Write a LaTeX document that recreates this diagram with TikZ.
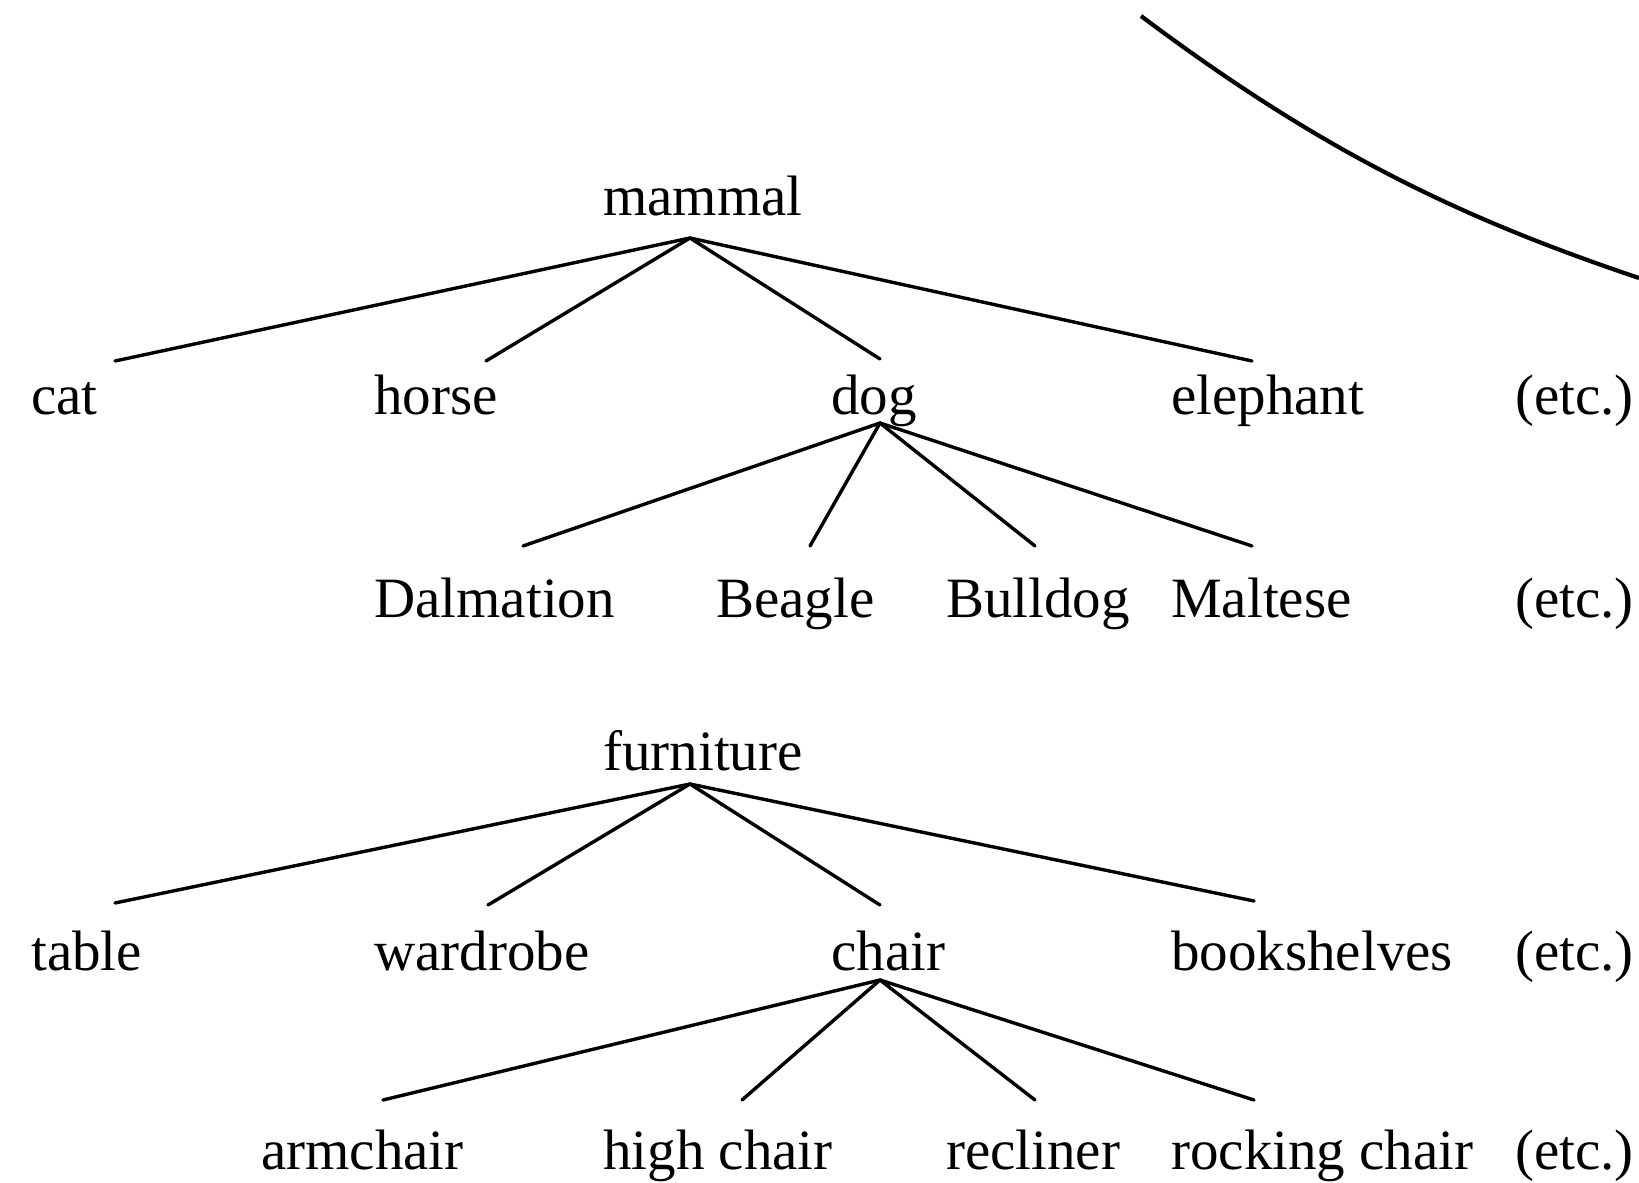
\documentclass[tikz,border=0pt]{standalone}
\usepackage{fontspec}
\setmainfont{Liberation Serif}
\usetikzlibrary{positioning}
\tikzset{
  word/.style={anchor=base west,inner sep=0pt,font=\fontsize{57}{68}\selectfont},
  branch/.style={line width=3.4pt,line cap=round}
}
\begin{document}
\begin{tikzpicture}[x=1pt,y=-1pt]
  \useasboundingbox (0,0) rectangle (1639,1183);
  \draw[line width=4.2pt] (1141,16) .. controls (1321,151) and (1459,217.5) .. (1639,278);
  % mammal tree
  \node[word] (mammal) at (603,215) {mammal};
  \node[word] (cat) at (31,414) {cat};
  \node[word] (horse) at (374,414) {horse};
  \node[word] (dog) at (831,414) {dog};
  \node[word] (elephant) at (1171,414) {elephant};
  \node[word] (etcA) at (1515,414) {(etc.)};
  \node[word] (dalmation) at (374,617) {Dalmation};
  \node[word] (beagle) at (716,617) {Beagle};
  \node[word] (bulldog) at (946,617) {Bulldog};
  \node[word] (maltese) at (1171,617) {Maltese};
  \node[word] (etcB) at (1515,617) {(etc.)};
  % furniture tree
  \node[word] (furniture) at (603,770) {furniture};
  \node[word] (table) at (31,970) {table};
  \node[word] (wardrobe) at (374,970) {wardrobe};
  \node[word] (chair) at (831,970) {chair};
  \node[word] (bookshelves) at (1171,970) {bookshelves};
  \node[word] (etcC) at (1515,970) {(etc.)};
  \node[word] (armchair) at (261,1169) {armchair};
  \node[word] (highchair) at (603,1169) {high chair};
  \node[word] (recliner) at (946,1169) {recliner};
  \node[word] (rocking) at (1171,1169) {rocking chair};
  \node[word] (etcD) at (1515,1169) {(etc.)};
  % branch ends
  \coordinate (mammal-dn) at (690,238);
  \coordinate (dog-dn) at (880,423);
  \coordinate (furniture-dn) at (690,784);
  \coordinate (chair-dn) at (880,980);
  \coordinate (cat-up) at (115,361);
  \coordinate (horse-up) at (486,361);
  \coordinate (dog-up) at (880,359);
  \coordinate (elephant-up) at (1252,361);
  \coordinate (dalmation-up) at (523,546);
  \coordinate (beagle-up) at (810,546);
  \coordinate (bulldog-up) at (1035,546);
  \coordinate (maltese-up) at (1252,546);
  \coordinate (table-up) at (115,903);
  \coordinate (wardrobe-up) at (488,905);
  \coordinate (chair-up) at (880,905);
  \coordinate (bookshelves-up) at (1254,901);
  \coordinate (armchair-up) at (383,1100);
  \coordinate (highchair-up) at (742,1100);
  \coordinate (recliner-up) at (1035,1100);
  \coordinate (rocking-up) at (1254,1100);
  \foreach \p/\c in {mammal/cat,mammal/horse,mammal/dog,mammal/elephant,
                     dog/dalmation,dog/beagle,dog/bulldog,dog/maltese,
                     furniture/table,furniture/wardrobe,furniture/chair,furniture/bookshelves,
                     chair/armchair,chair/highchair,chair/recliner,chair/rocking}
    \draw[branch] (\p-dn) -- (\c-up);
\end{tikzpicture}
\end{document}
